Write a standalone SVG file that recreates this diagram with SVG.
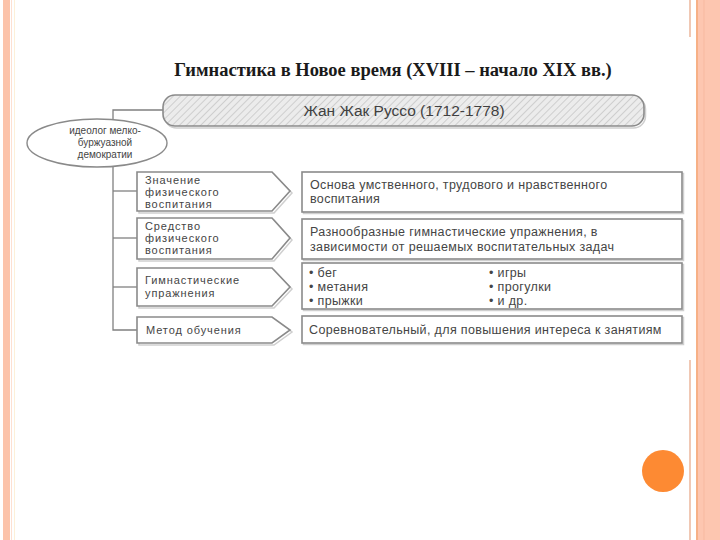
<svg xmlns="http://www.w3.org/2000/svg" width="720" height="540" viewBox="0 0 720 540">
<style>
.box{fill:#fff;stroke:#8a8a8a;stroke-width:1.6}
.sh{fill:none;stroke:#cfcfcf;stroke-width:1.5}
.conn{fill:none;stroke:#808080;stroke-width:1.3}
.t{font-family:"Liberation Sans",Arial,sans-serif;font-size:11px;letter-spacing:0.9px;fill:#454545}
.tr{font-family:"Liberation Sans",Arial,sans-serif;font-size:12.5px;letter-spacing:0.35px;fill:#454545}
</style>
<defs>
<pattern id="hatch" width="5" height="5" patternUnits="userSpaceOnUse" patternTransform="rotate(45)">
<rect width="5" height="5" fill="#ececec"/>
<line x1="0" y1="0" x2="0" y2="5" stroke="#c4c4c4" stroke-width="1.5"/>
</pattern>
</defs>
<rect width="720" height="540" fill="#fff"/>
<!-- slide borders -->
<rect x="3" y="0" width="7" height="540" fill="#fcc3aa"/>
<line x1="11.5" y1="0" x2="11.5" y2="540" stroke="#fde0d2" stroke-width="1"/>
<line x1="14.5" y1="0" x2="14.5" y2="540" stroke="#fdf0d8" stroke-width="1"/>
<line x1="690" y1="0" x2="690" y2="37" stroke="#f0c8b4" stroke-width="2"/>
<line x1="690" y1="360" x2="690" y2="540" stroke="#f0c8b4" stroke-width="2"/>
<rect x="696" y="0" width="24" height="540" fill="#fdc6b0"/>
<line x1="697" y1="0" x2="697" y2="540" stroke="#f5a878" stroke-width="1.5"/>
<line x1="704" y1="0" x2="704" y2="540" stroke="#f7b9a0" stroke-width="1"/>
<circle cx="663" cy="471" r="21" fill="#fd8a33"/>
<!-- title -->
<text x="393" y="76" text-anchor="middle" font-family="Liberation Serif,'Times New Roman',serif" font-weight="bold" font-size="18.5" fill="#1a1a1a">Гимнастика в Новое время (XVIII – начало XIX вв.)</text>
<!-- connectors -->
<g id="connectors">
<polyline class="conn" points="163,110 113,110 113,330 137,330"/>
<line class="conn" x1="113" y1="191" x2="137" y2="191"/>
<line class="conn" x1="113" y1="238" x2="137" y2="238"/>
<line class="conn" x1="113" y1="287" x2="137" y2="287"/>
</g>
<g id="rousseau">
<rect x="164.5" y="97" width="481" height="31" rx="12" class="sh"/>
<rect x="163" y="95" width="481" height="31" rx="12" fill="url(#hatch)" stroke="#8a8a8a" stroke-width="1.6"/>
<text x="404" y="116" text-anchor="middle" font-family="Liberation Sans,Arial,sans-serif" font-size="15.5" fill="#404040">Жан Жак Руссо (1712-1778)</text>
</g>
<g id="ideolog">
<ellipse cx="97" cy="143" rx="70" ry="24" fill="#fff" stroke="#8a8a8a" stroke-width="1.4"/>
<text font-family="Liberation Sans,Arial,sans-serif" font-size="10" fill="#454545" text-anchor="middle"><tspan x="105" y="134">идеолог мелко-</tspan><tspan x="105" y="146">буржуазной</tspan><tspan x="105" y="158">демократии</tspan></text>
</g>
<g id="left1">
<polygon class="sh" points="139,174 274,174 292,193 274,213 139,213"/>
<polygon class="box" points="137,172 272,172 290,191 272,211 137,211"/>
<text class="t"><tspan x="145" y="184">Значение</tspan><tspan x="145" y="196">физического</tspan><tspan x="145" y="208">воспитания</tspan></text>
</g>
<g id="left2">
<polygon class="sh" points="139,220 274,220 292,240 274,261 139,261"/>
<polygon class="box" points="137,218 272,218 290,238 272,259 137,259"/>
<text class="t"><tspan x="145" y="230">Средство</tspan><tspan x="145" y="242">физического</tspan><tspan x="145" y="254">воспитания</tspan></text>
</g>
<g id="left3">
<polygon class="sh" points="139,270 274,270 292,289 274,308 139,308"/>
<polygon class="box" points="137,268 272,268 290,287 272,306 137,306"/>
<text class="t"><tspan x="145" y="284">Гимнастические</tspan><tspan x="145" y="297">упражнения</tspan></text>
</g>
<g id="left4">
<polygon class="sh" points="139,319 274,319 292,332 274,345 139,345"/>
<polygon class="box" points="137,317 272,317 290,330 272,343 137,343"/>
<text class="t" x="146" y="334">Метод обучения</text>
</g>
<g id="right1">
<rect class="sh" x="303.5" y="173.5" width="380" height="40"/>
<rect class="box" x="302" y="172" width="380" height="40"/>
<text class="tr"><tspan x="310" y="189">Основа умственного, трудового и нравственного</tspan><tspan x="310" y="203">воспитания</tspan></text>
</g>
<g id="right2">
<rect class="sh" x="303.5" y="220.5" width="380" height="40"/>
<rect class="box" x="302" y="219" width="380" height="40"/>
<text class="tr"><tspan x="310" y="236">Разнообразные гимнастические упражнения, в</tspan><tspan x="310" y="251">зависимости от решаемых воспитательных задач</tspan></text>
</g>
<g id="right3">
<rect class="sh" x="303.5" y="264.5" width="380" height="46"/>
<rect class="box" x="302" y="263" width="380" height="46"/>
<text class="tr"><tspan x="309" y="277">• бег</tspan><tspan x="309" y="291">• метания</tspan><tspan x="309" y="305">• прыжки</tspan></text>
<text class="tr"><tspan x="489" y="277">• игры</tspan><tspan x="489" y="291">• прогулки</tspan><tspan x="489" y="305">• и др.</tspan></text>
</g>
<g id="right4">
<rect class="sh" x="303.5" y="317.5" width="380" height="27"/>
<rect class="box" x="302" y="316" width="380" height="27"/>
<text class="tr" x="309" y="334">Соревновательный, для повышения интереса к занятиям</text>
</g>
</svg>
